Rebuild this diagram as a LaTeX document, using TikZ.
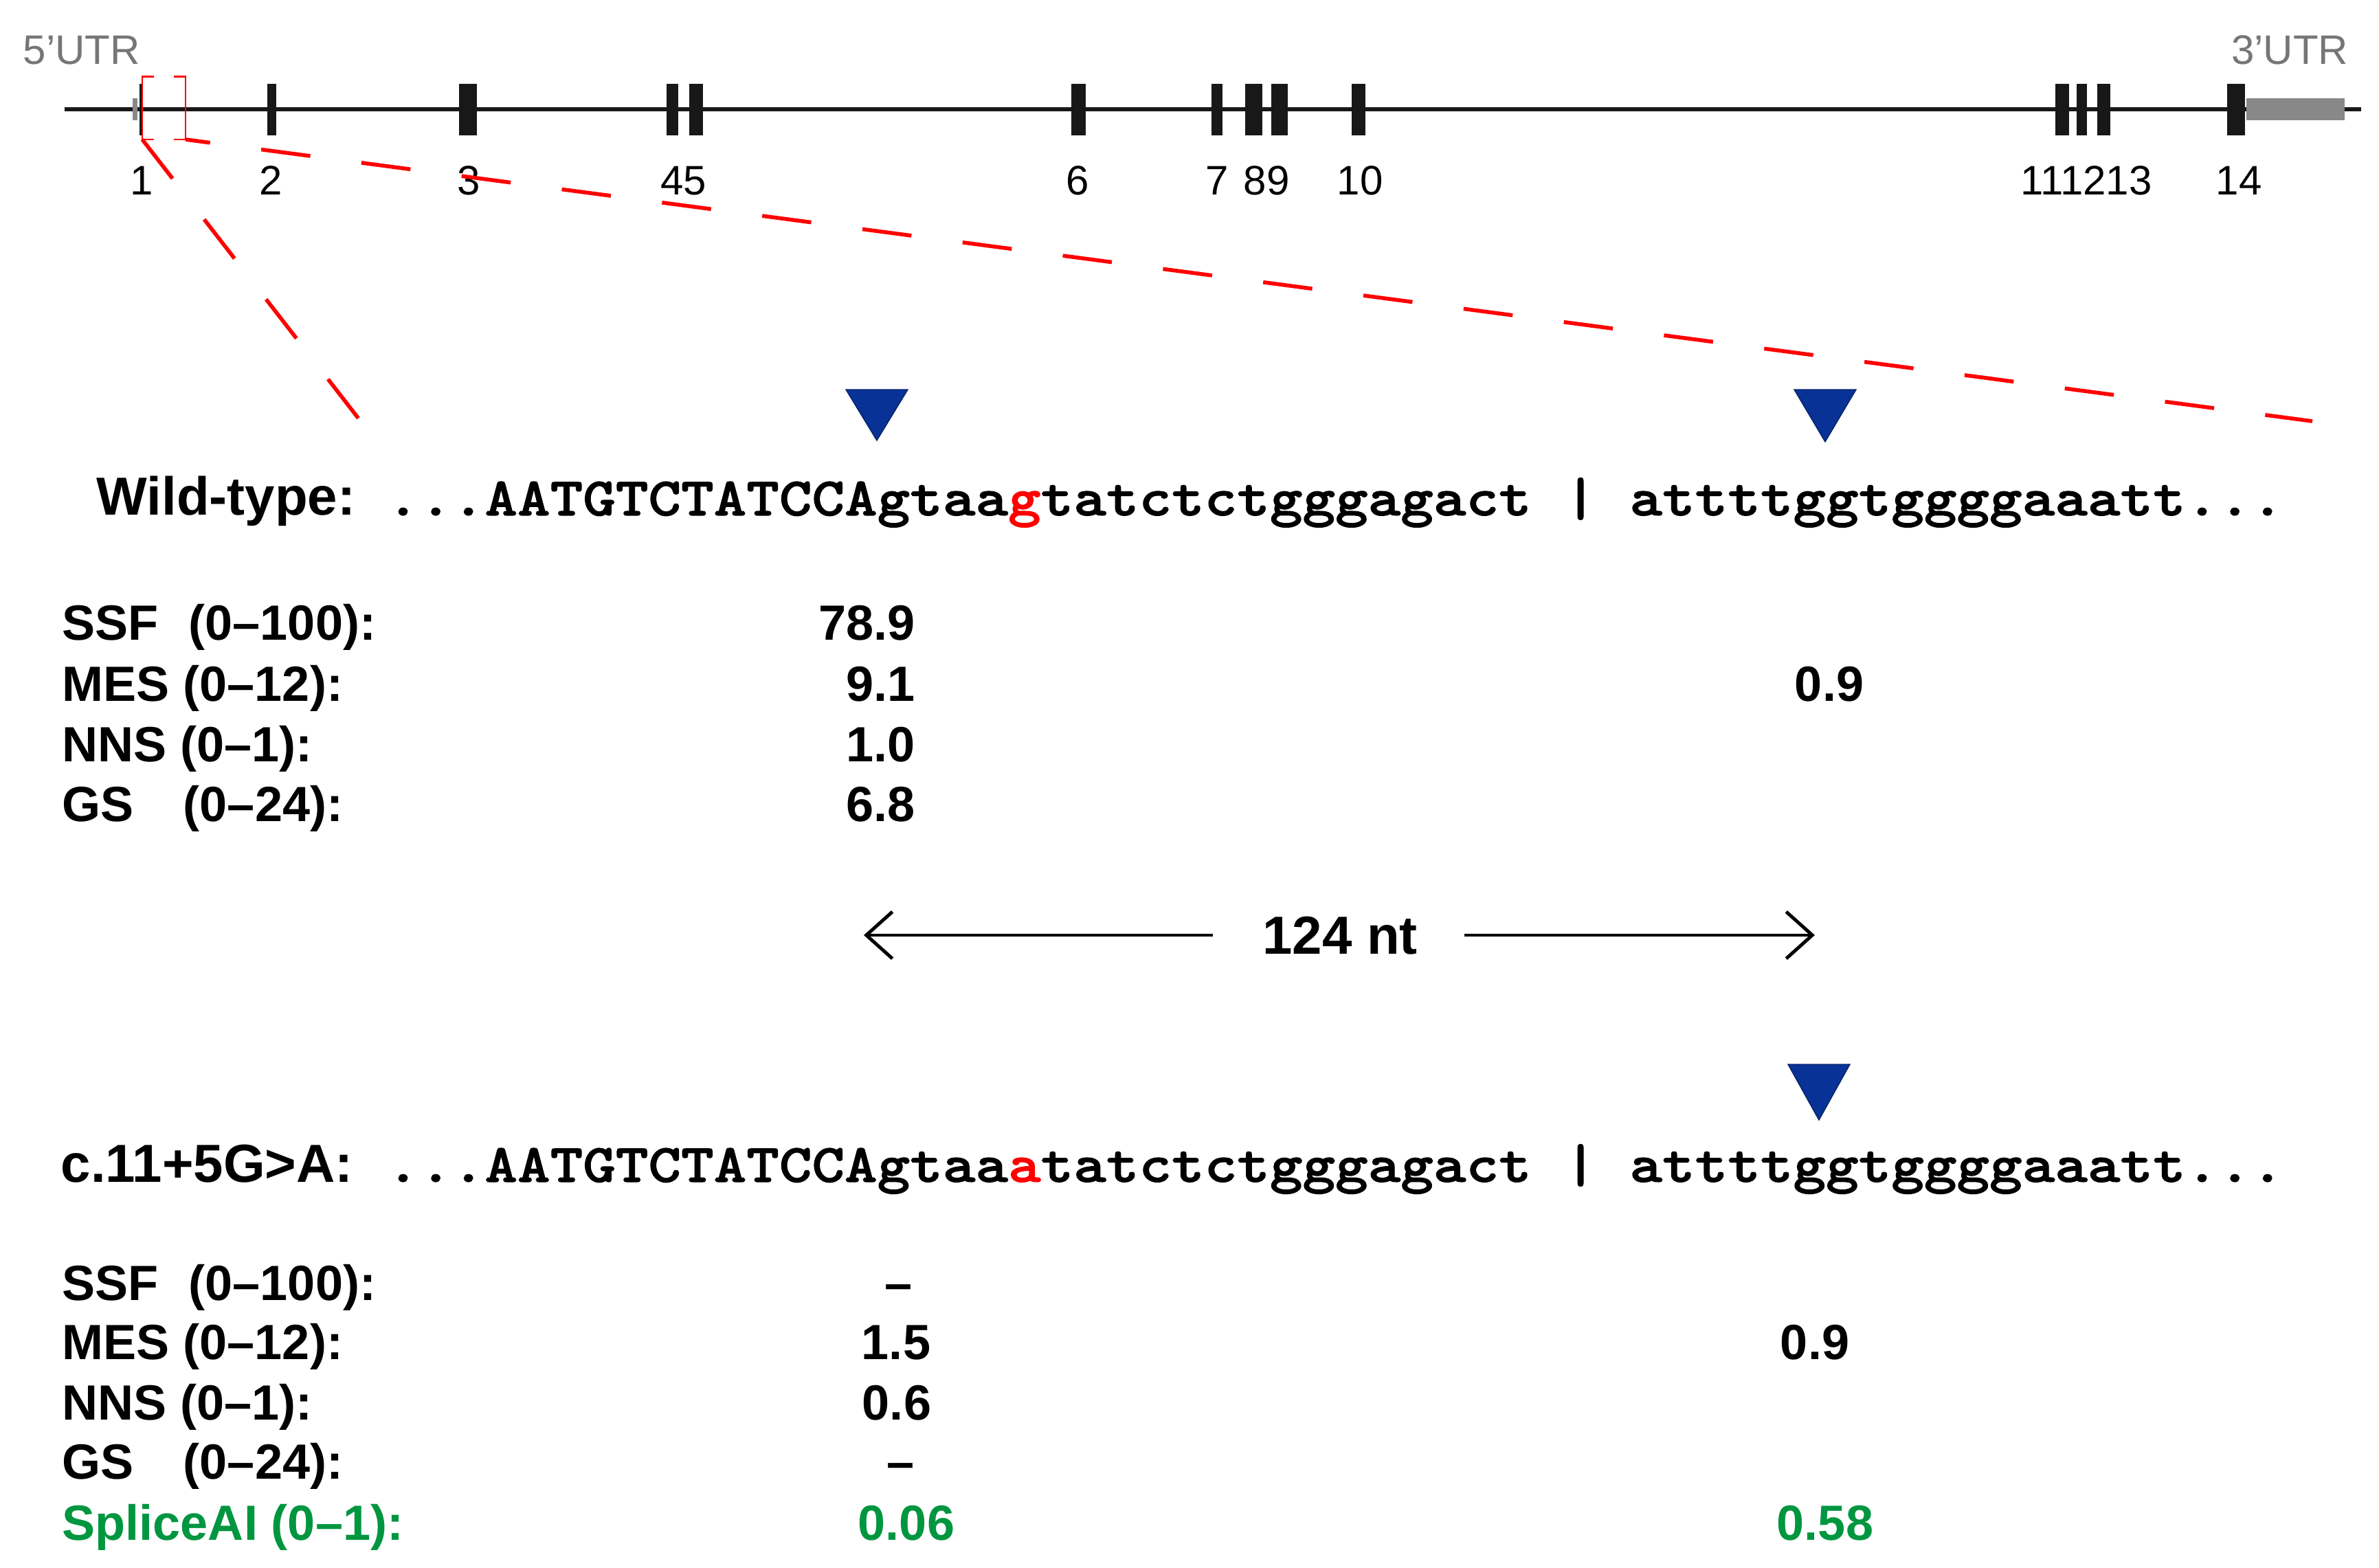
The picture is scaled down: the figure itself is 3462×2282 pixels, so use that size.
\documentclass[tikz,border=0pt]{standalone}
\usepackage{fontspec}
\setmainfont{Liberation Sans}
\newfontfamily\seqfont{lmmonolt10-bold.otf}[FakeStretch=1.15,FakeBold=1.5]
\usetikzlibrary{arrows.meta}
\definecolor{exonblack}{RGB}{24,24,24}
\definecolor{utrgray}{RGB}{136,136,136}
\definecolor{labgray}{RGB}{118,118,118}
\definecolor{zoomred}{RGB}{255,0,0}
\definecolor{siteblue}{RGB}{8,50,150}
\definecolor{aigreen}{RGB}{0,150,64}
\begin{document}
\begin{tikzpicture}[x=0.01cm,y=-0.01cm,
  genelab/.style={font=\fontsize{17.07}{20}\selectfont, inner sep=0, anchor=base},
  utrlab/.style={font=\fontsize{17.07}{20}\selectfont, text=labgray, inner sep=0},
  statlab/.style={font=\fontsize{20.49}{24}\selectfont\bfseries, inner sep=0, anchor=base west},
  statval/.style={font=\fontsize{20.49}{24}\selectfont\bfseries, inner sep=0, anchor=base},
  rowtitle/.style={font=\fontsize{22.19}{26}\selectfont\bfseries, inner sep=0, anchor=base west},
  seqtext/.style={font=\seqfont\fontsize{22.42}{26}\selectfont, inner sep=0, anchor=base west},
  exon/.style={fill=exonblack},
  utrbox/.style={fill=utrgray},
  site/.style={fill=siteblue, draw=siteblue!70!black, line width=0.4pt},
  zoomline/.style={draw=zoomred, line width=1.6pt, dash pattern=on 0.72cm off 0.75cm},
  bracket/.style={draw=zoomred, line width=0.85pt},
  spanarrow/.style={line width=1.4pt, -{Straight Barb[length=10.8pt,width=19.4pt,line width=1.4pt]}},
  green/.style={text=aigreen}
]
\useasboundingbox (0,0) rectangle (3462,2282);

% ---------- gene structure ----------
\coordinate (gstart) at (94,159);
\coordinate (gend) at (3436,159);
\draw[exonblack, line width=1.7pt] (gstart) -- (gend);

\fill[utrgray] (193,143) rectangle (200,175);
\fill[exon] (203,122) rectangle (208,197);
\fill[exon] (389,122) rectangle (402,197);
\fill[exon] (668,122) rectangle (694,197);
\fill[exon] (970,122) rectangle (987,197);
\fill[exon] (1003,122) rectangle (1023,197);
\fill[exon] (1559,122) rectangle (1580,197);
\fill[exon] (1763,122) rectangle (1779,197);
\fill[exon] (1812,122) rectangle (1837,197);
\fill[exon] (1850,122) rectangle (1874,197);
\fill[exon] (1967,122) rectangle (1987,197);
\fill[exon] (2991,122) rectangle (3011,197);
\fill[exon] (3022,122) rectangle (3037,197);
\fill[exon] (3052,122) rectangle (3071,197);
\fill[exon] (3241,122) rectangle (3267,197);
\fill[utrbox] (3269,143) rectangle (3412,175);

\node[utrlab, anchor=base west] (utr5) at (33,94) {5’UTR};
\node[utrlab, anchor=base east] (utr3) at (3418,94) {3’UTR};

\node[genelab] (e1) at (206,284) {1};
\node[genelab] (e2) at (394,284) {2};
\node[genelab] (e3) at (682,284) {3};
\node[genelab] (e45) at (995,284) {45};
\node[genelab] (e6) at (1568,284) {6};
\node[genelab] (e7) at (1771,284) {7};
\node[genelab] (e89) at (1843,284) {89};
\node[genelab] (e10) at (1979,284) {10};
\node[genelab] (e111213) at (3036,284) {111213};
\node[genelab] (e14) at (3258,284) {14};

% ---------- zoom bracket and lines ----------
\draw[bracket] (224,112) -- (207,112) -- (207,203) -- (224,203);
\draw[bracket] (253,112) -- (270,112) -- (270,203) -- (253,203);
\coordinate (brBL) at (207,203);
\coordinate (brBR) at (270,203);
\coordinate (zoomL) at (555,652);
\coordinate (zoomR) at (3365,613);
\draw[zoomline] (brBL) -- (zoomL);
\draw[zoomline, dash phase=0.36cm] (brBR) -- (zoomR);

% ---------- splice site markers ----------
\fill[site] (1231,567) -- (1321,567) -- (1276,641) -- cycle;
\fill[site] (2611,567) -- (2701,567) -- (2656,643) -- cycle;
\fill[site] (2602,1549) -- (2692,1549) -- (2647,1630) -- cycle;

% ---------- wild-type ----------
\node[rowtitle] (wt) at (140,750) {Wild-type:};
\node[seqtext] (wtseq) at (562,750) {...AATGTCTATCCAgtaa{\color{zoomred}g}tatctctgggagact\ |\ attttggtggggaaatt...};

\node[statlab] (wssf) at (90,931) {SSF\hspace{12.5pt}(0–100):};
\node[statlab] (wmes) at (90,1020) {MES (0–12):};
\node[statlab] (wnns) at (90,1108) {NNS (0–1):};
\node[statlab] (wgs) at (90,1195) {GS\hspace{20.5pt}(0–24):};

\node[statval, anchor=base east] (wssfv) at (1332,931) {78.9};
\node[statval, anchor=base east] (wmesv) at (1332,1020) {9.1};
\node[statval, anchor=base east] (wnnsv) at (1332,1108) {1.0};
\node[statval, anchor=base east] (wgsv) at (1332,1195) {6.8};
\node[statval] (wmesv2) at (2662,1020) {0.9};

% ---------- distance ----------
\node[rowtitle, anchor=base] (dist) at (1950,1388) {124 nt};
\coordinate (distL) at (1257,1361);
\coordinate (distR) at (2641,1361);
\coordinate (distLa) at (1765,1361);
\coordinate (distRa) at (2131,1361);
\draw[spanarrow] (distLa) -- (distL);
\draw[spanarrow] (distRa) -- (distR);

% ---------- mutant ----------
\node[rowtitle] (mut) at (88,1720) {c.11+5G>A:};
\node[seqtext] (mutseq) at (562,1720) {...AATGTCTATCCAgtaa{\color{zoomred}a}tatctctgggagact\ |\ attttggtggggaaatt...};

\node[statlab] (mssf) at (90,1892) {SSF\hspace{12.5pt}(0–100):};
\node[statlab] (mmes) at (90,1978) {MES (0–12):};
\node[statlab] (mnns) at (90,2066) {NNS (0–1):};
\node[statlab] (mgs) at (90,2152) {GS\hspace{20.5pt}(0–24):};
\node[statlab, green] (mai) at (90,2241) {SpliceAI (0–1):};

\node[statval] (mssfv) at (1308,1892) {–};
\node[statval] (mmesv) at (1304,1978) {1.5};
\node[statval] (mnnsv) at (1305,2066) {0.6};
\node[statval] (mgsv) at (1311,2152) {–};
\node[statval, green] (maiv) at (1319,2241) {0.06};
\node[statval] (mmesv2) at (2641,1978) {0.9};
\node[statval, green] (maiv2) at (2656,2241) {0.58};
\end{tikzpicture}
\end{document}
